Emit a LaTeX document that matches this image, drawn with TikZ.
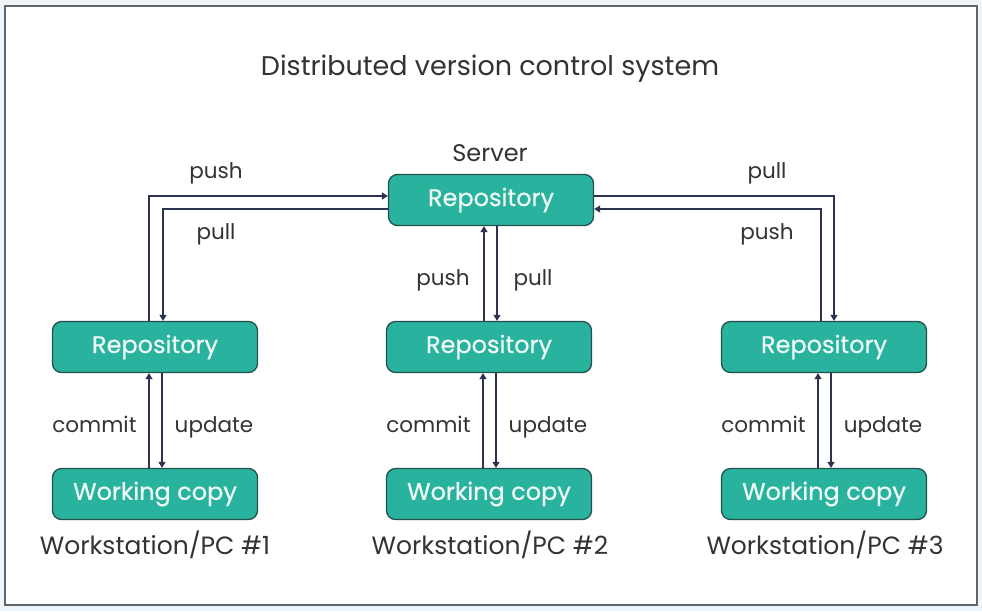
\documentclass[tikz,border=0pt]{standalone}
\usepackage{fontspec}
\setmainfont{Poppins}
\newfontfamily\medfont{Poppins}[FakeBold=0.6]
\usetikzlibrary{arrows.meta}
\definecolor{teal1}{HTML}{29B29E}
\definecolor{edgec}{HTML}{24504C}
\definecolor{linec}{HTML}{2C3250}
\definecolor{txt}{HTML}{333333}
\definecolor{boxtxt}{HTML}{EEFAF5}
\definecolor{outer}{HTML}{EEF4F7}
\definecolor{framec}{HTML}{5F676E}
\tikzset{
  box/.style={draw=edgec, line width=1.3pt, fill=teal1, rounded corners=9pt,
    minimum width=205pt, minimum height=51pt, text=boxtxt, font=\medfont\fontsize{24}{28}\selectfont},
  lbl/.style={text=txt, anchor=base, font=\fontsize{21.5}{24}\selectfont},
  big/.style={text=txt, anchor=base, font=\fontsize{25}{28}\selectfont},
  conn/.style={draw=linec, line width=1.2pt, -{Triangle[width=7pt,length=6pt]}},
}
\begin{document}
\begin{tikzpicture}[x=1pt,y=-1pt]
\useasboundingbox (0,0) rectangle (982,611);
\fill[outer] (0,0) rectangle (982,611);
\draw[framec, fill=white, line width=2pt] (5,6) rectangle (977,605);

\node[text=txt, anchor=base, font=\fontsize{27}{30}\selectfont] (title) at (490,75) {Distributed version control system};
\node[text=txt, anchor=base, font=\fontsize{24}{28}\selectfont] (srvlbl) at (490,161) {Server};
\node[box] (srv) at (491,200) {\raisebox{-1.5pt}{Repository}};

\node[box] (r1) at (155,347) {\raisebox{-1.5pt}{Repository}};
\node[box] (r2) at (489,347) {\raisebox{-1.5pt}{Repository}};
\node[box] (r3) at (824,347) {\raisebox{-1.5pt}{Repository}};
\node[box] (w1) at (155,494) {\raisebox{-1.5pt}{Working copy}};
\node[box] (w2) at (489,494) {\raisebox{-1.5pt}{Working copy}};
\node[box] (w3) at (824,494) {\raisebox{-1.5pt}{Working copy}};

\node[big] (ws1) at (155,554) {Workstation/PC \#1};
\node[big] (ws2) at (490,554) {Workstation/PC \#2};
\node[big] (ws3) at (825,554) {Workstation/PC \#3};

% left pc <-> server
\coordinate (pa) at (149,196);
\coordinate (pb) at (163,209);
\draw[conn] (r1.north -| pa) -- (pa) -- (srv.west |- pa);
\draw[conn] (srv.west |- pb) -- (pb) -- (r1.north -| pb);
\node[lbl] (l1) at (216,178) {push};
\node[lbl] (l2) at (216,239) {pull};

% right pc <-> server
\coordinate (qa) at (834,196);
\coordinate (qb) at (821,209);
\draw[conn] (srv.east |- qa) -- (qa) -- (r3.north -| qa);
\draw[conn] (r3.north -| qb) -- (qb) -- (srv.east |- qb);
\node[lbl] (l3) at (767,178) {pull};
\node[lbl] (l4) at (767,239) {push};

% middle
\coordinate (ma) at (484,0);
\coordinate (mb) at (497,0);
\draw[conn] (r2.north -| ma) -- (srv.south -| ma);
\draw[conn] (srv.south -| mb) -- (r2.north -| mb);
\node[lbl] (l5) at (443,285) {push};
\node[lbl] (l6) at (533,285) {pull};

% commit / update
\foreach \n/\x in {1/155,2/489,3/824}{
  \draw[conn] ([xshift=-6pt]w\n.north) -- ([xshift=-6pt]r\n.south);
  \draw[conn] ([xshift=7pt]r\n.south) -- ([xshift=7pt]w\n.north);
  \node[lbl] (c\n) at (\x-60.5,432) {commit};
  \node[lbl] (u\n) at (\x+59,432) {update};
}
\end{tikzpicture}
\end{document}
